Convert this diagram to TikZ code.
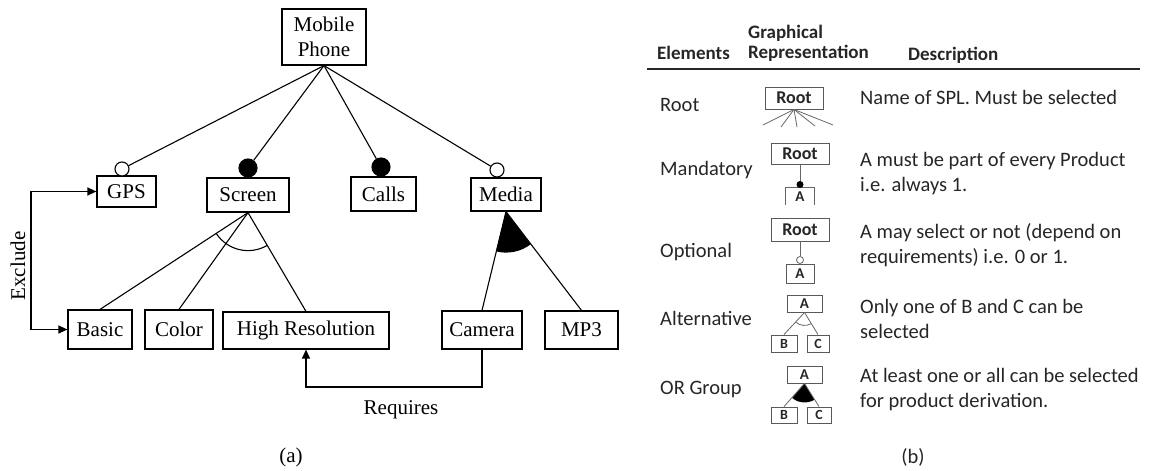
\documentclass[tikz,border=0pt]{standalone}
\usepackage{fontspec}
\setmainfont{Liberation Serif}
\newfontfamily\calib{Carlito}
\usetikzlibrary{arrows.meta}

\tikzset{
  feat/.style={draw, line width=1.2pt, inner sep=0pt, font=\fontsize{21}{25}\selectfont},
  tree/.style={line width=1.1pt},
  opt/.style={circle, draw, fill=white, line width=1.1pt, inner sep=0pt, minimum size=#1},
  mand/.style={circle, draw, fill=black, line width=1.1pt, inner sep=0pt, minimum size=#1},
  rel/.style={line width=1.3pt, -{Triangle[length=9pt,width=8pt]}},
  lbl/.style={font=\fontsize{21}{25}\selectfont},
  tcell/.style={font=\calib\fontsize{20.5}{25}\selectfont, text=black!85, anchor=west, align=left, inner sep=0pt},
  thead/.style={font=\calib\bfseries\fontsize{19}{20}\selectfont, text=black!85, anchor=west, align=left, inner sep=0pt},
  sbox/.style={draw=black!65, line width=0.9pt, inner sep=0pt, text=black!85, font=\calib\bfseries\fontsize{#1}{#1}\selectfont},
  sline/.style={draw=black!60, line width=0.8pt}
}

\begin{document}
\begin{tikzpicture}[x=1pt,y=1pt]
\useasboundingbox (0,0) rectangle (1149,-471);

% ---------- (a) feature model of a mobile phone ----------
\node[feat, align=center, minimum width=84pt, minimum height=56pt] (mp) at (324,-37) {Mobile\\Phone};

\node[feat, minimum width=59pt, minimum height=31pt] (gps)   at (126.5,-191.5) {GPS};
\node[feat, minimum width=82pt, minimum height=34pt] (scr)   at (248,-195)     {Screen};
\node[feat, minimum width=65pt, minimum height=34pt] (calls) at (383.5,-194)   {Calls};
\node[feat, minimum width=70pt, minimum height=33pt] (media) at (506,-194.5)   {Media};

\node[opt=14pt]  (gpsc)   at (122,-169) {};
\node[mand=18pt] (scrc)   at (248,-168) {};
\node[mand=18pt] (callsc) at (381,-167) {};
\node[opt=14pt]  (mediac) at (497,-170) {};

\draw[tree] (mp.south) -- (gpsc);
\draw[tree] (mp.south) -- (scrc);
\draw[tree] (mp.south) -- (callsc);
\draw[tree] (mp.south) -- (mediac);

\node[feat, minimum width=64pt,  minimum height=39pt] (basic) at (100,-329.5)  {Basic};
\node[feat, minimum width=68pt,  minimum height=39pt] (color) at (179,-329.5)  {Color};
\node[feat, minimum width=166pt, minimum height=37pt] (hr)    at (306,-330.5)  {High Resolution};
\node[feat, minimum width=80pt,  minimum height=38pt] (cam)   at (482,-330)    {Camera};
\node[feat, minimum width=73pt,  minimum height=38pt] (mp3)   at (581.5,-330)  {MP3};

% alternative group under Screen
\draw[tree] (scr.south) -- (basic.north);
\draw[tree] (scr.south) -- (color.north);
\draw[tree] (scr.south) -- (hr.north);
\draw[tree] ([shift={(213.5:38)}]scr.south) arc[start angle=213.5, end angle=299.9, radius=38];

% or group under Media
\fill ([shift={(256:41)}]media.south) -- (media.south) -- ([shift={(306.9:41)}]media.south)
      arc[start angle=306.9, end angle=256, radius=41] -- cycle;
\draw[tree] (media.south) -- (cam.north);
\draw[tree] (media.south) -- (mp3.north);

% cross-tree constraints
\coordinate (exk) at (31,-260);
\draw[rel, {Triangle[length=9pt,width=8pt]}-{Triangle[length=9pt,width=8pt]}]
  (gps.west) -| (exk) |- (basic.west);
\node[lbl, rotate=90] (exl) at (18,-266) {Exclude};

\coordinate (rqk) at (394,-387);
\draw[rel] (cam.south) |- (rqk) -| (hr.south);
\node[lbl] (rql) at (401,-410) {Requires};

\node[lbl] (capa) at (291,-457) {(a)};

% ---------- (b) notation table ----------
\node[thead] (hel)  at (657,-53) {Elements};
\node[thead] (hgr)  at (748,-43) {Graphical\\Representation};
\node[thead] (hde)  at (908,-55) {Description};
\draw[line width=2pt, black!85] (647,-69) -- (1140,-69);

\node[tcell] (lroot) at (660,-105) {Root};
\node[tcell] (lmand) at (660,-170) {Mandatory};
\node[tcell] (lopt)  at (660,-252) {Optional};
\node[tcell] (lalt)  at (660,-318) {Alternative};
\node[tcell] (lor)   at (660,-389) {OR Group};

\node[tcell] (droot) at (860,-97)  {Name of SPL. Must be selected};
\node[tcell] (dmand) at (860,-174) {A must be part of every Product\\i.e. always 1.};
\node[tcell] (dopt)  at (860,-245) {A may select or not (depend on\\requirements) i.e. 0 or 1.};
\node[tcell] (dalt)  at (860,-319) {Only one of B and C can be\\selected};
\node[tcell] (dor)   at (860,-390) {At least one or all can be selected\\for product derivation.};

% root symbol
\node[sbox=18, minimum width=58pt, minimum height=22pt] (rr) at (794,-98) {Root};
\coordinate (r1) at (763,-125);
\coordinate (r2) at (781,-127);
\coordinate (r3) at (797,-127);
\coordinate (r4) at (815,-126);
\coordinate (r5) at (833,-125);
\foreach \r in {r1,r2,r3,r4,r5} \draw[sline] (rr.south) -- (\r);

% mandatory symbol
\node[sbox=18, minimum width=58pt, minimum height=21pt] (mr) at (800,-153.5) {Root};
\node[inner sep=0pt, minimum width=28pt, minimum height=17pt, text=black!85,
      font=\calib\bfseries\fontsize{15}{15}\selectfont] (ma) at (800,-196.5) {A};
\draw[sline] (ma.south west) |- (ma.north east) -- (ma.south east);
\node[circle, fill=black, inner sep=0pt, minimum size=7pt] (md) at (800,-184.5) {};
\draw[sline] (mr.south) -- (md);

% optional symbol
\node[sbox=18, minimum width=58pt, minimum height=23pt] (or) at (800,-229.5) {Root};
\node[sbox=15, minimum width=28pt, minimum height=19pt] (oa) at (800,-273.5) {A};
\node[circle, draw=black!60, fill=white, line width=0.8pt, inner sep=0pt, minimum size=7pt] (oc) at (800,-260) {};
\draw[sline] (or.south) -- (oc);

% alternative symbol
\node[sbox=15, minimum width=35pt, minimum height=17pt] (aa) at (804.5,-303.5) {A};
\node[sbox=14, minimum width=26pt, minimum height=17pt] (ab) at (784,-343.5) {B};
\node[sbox=14, minimum width=22pt, minimum height=17pt] (ac) at (818,-343.5) {C};
\draw[sline] (aa.south) -- (ab.north);
\draw[sline] (aa.south) -- (ac.north);
\draw[sline] ([shift={(228.3:13)}]aa.south) arc[start angle=228.3, end angle=300.4, radius=13];

% or-group symbol
\node[sbox=15, minimum width=35pt, minimum height=17pt] (ga) at (804.5,-374.5) {A};
\node[sbox=14, minimum width=26pt, minimum height=16pt] (gb) at (784,-415) {B};
\node[sbox=14, minimum width=24pt, minimum height=16pt] (gc) at (819,-415) {C};
\fill ([shift={(229.5:19)}]ga.south) -- (ga.south) -- ([shift={(301.1:19)}]ga.south)
      arc[start angle=301.1, end angle=229.5, radius=19] -- cycle;
\draw[sline] (ga.south) -- (gb.north);
\draw[sline] (ga.south) -- (gc.north);

\node[tcell, anchor=center] (capb) at (913,-457) {(b)};
\end{tikzpicture}
\end{document}
